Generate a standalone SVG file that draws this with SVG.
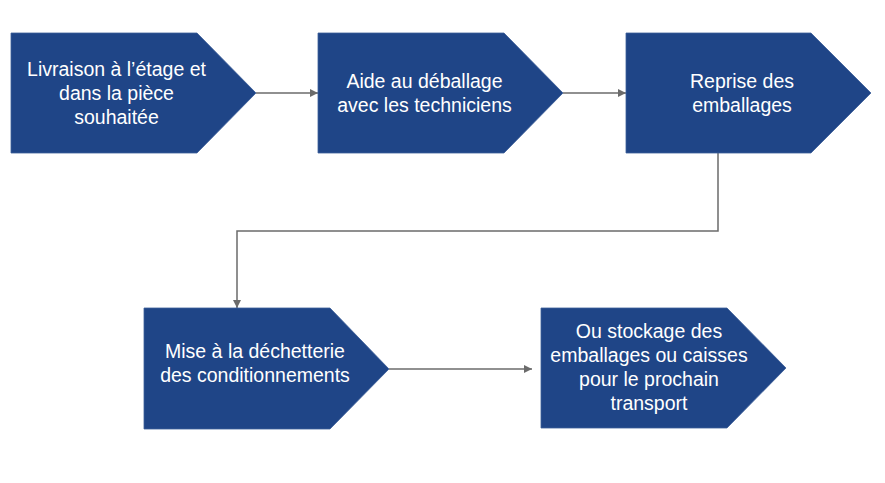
<svg xmlns="http://www.w3.org/2000/svg" width="885" height="483" viewBox="0 0 885 483">
<style>
.node{fill:#1f4587;stroke:#3d5f99;stroke-width:0.8}
.lbl{font-family:"Liberation Sans",Arial,sans-serif;font-size:19.5px;fill:#ffffff;text-anchor:middle}
.conn{fill:none;stroke:#6b6b6b;stroke-width:1.5}
</style>
<defs>
<marker id="arr" viewBox="0 0 10 10" refX="10" refY="5" markerWidth="10" markerHeight="8" markerUnits="userSpaceOnUse" orient="auto">
<path d="M0,0 L10,5 L0,10 Z" fill="#6b6b6b"/>
</marker>
</defs>
<rect width="885" height="483" fill="#ffffff"/>
<g id="connectors">
<path class="conn" d="M256,93 L318,93" marker-end="url(#arr)"/>
<path class="conn" d="M563,93 L626,93" marker-end="url(#arr)"/>
<path class="conn" d="M718,153 L718,231 L237,231 L237,308" marker-end="url(#arr)"/>
<path class="conn" d="M389,369 L532,369" marker-end="url(#arr)"/>
</g>
<g id="n1">
<path class="node" d="M11,33 L197,33 L256,93 L197,153 L11,153 Z"/>
<text class="lbl" x="116.5"><tspan x="116.5" y="76">Livraison à l’étage et</tspan><tspan x="116.5" y="100">dans la pièce</tspan><tspan x="116.5" y="124">souhaitée</tspan></text>
</g>
<g id="n2">
<path class="node" d="M318,33 L504,33 L563,93 L504,153 L318,153 Z"/>
<text class="lbl"><tspan x="424.5" y="88">Aide au déballage</tspan><tspan x="424.5" y="112">avec les techniciens</tspan></text>
</g>
<g id="n3">
<path class="node" d="M626,33 L811,33 L871,93 L811,153 L626,153 Z"/>
<text class="lbl"><tspan x="742" y="88">Reprise des</tspan><tspan x="742" y="112">emballages</tspan></text>
</g>
<g id="n4">
<path class="node" d="M144,308 L330,308 L389,369 L330,429 L144,429 Z"/>
<text class="lbl"><tspan x="255" y="358">Mise à la déchetterie</tspan><tspan x="255" y="382">des conditionnements</tspan></text>
</g>
<g id="n5">
<path class="node" d="M541,308 L727,308 L786,368 L727,428 L541,428 Z"/>
<text class="lbl"><tspan x="649" y="338">Ou stockage des</tspan><tspan x="649" y="362">emballages ou caisses</tspan><tspan x="649" y="386">pour le prochain</tspan><tspan x="649" y="410">transport</tspan></text>
</g>
</svg>
